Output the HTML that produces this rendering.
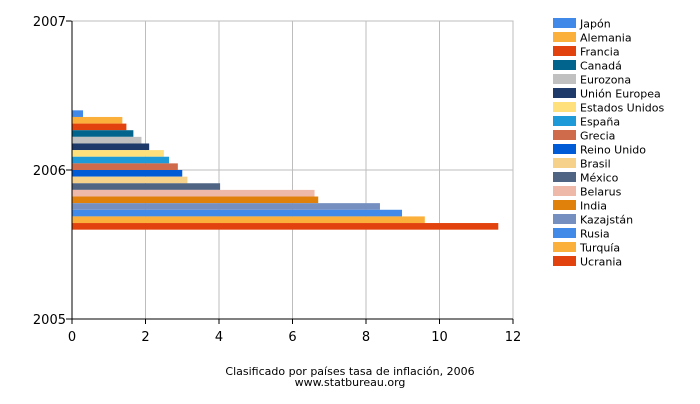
<!DOCTYPE html>
<html><head><meta charset="utf-8"><style>
body{margin:0;background:#fff;font-family:"DejaVu Sans","Liberation Sans",sans-serif;}
</style></head><body>
<svg id="chart" width="700" height="400" xmlns="http://www.w3.org/2000/svg" font-family="DejaVu Sans, Liberation Sans, sans-serif">
<rect width="700" height="400" fill="#fff"/>
<g id="grid"></g><g id="bars"></g><g id="axes"></g><g id="legend"></g>
<text x="350" y="375" font-size="11" text-anchor="middle" fill="#000">Clasificado por países tasa de inflación, 2006</text>
<text x="350" y="386" font-size="11" text-anchor="middle" fill="#000">www.statbureau.org</text>
</svg>
<script>
const countries=["Japón","Alemania","Francia","Canadá","Eurozona","Unión Europea","Estados Unidos","España","Grecia","Reino Unido","Brasil","México","Belarus","India","Kazajstán","Rusia","Turquía","Ucrania"];
const values=[0.3,1.37,1.48,1.67,1.89,2.1,2.5,2.64,2.88,3.0,3.14,4.03,6.6,6.7,8.38,8.98,9.6,11.6];
const colors=["#4189e8","#fbb03b","#e2430e","#00648c","#c0c0c0","#1e3a6b","#ffe07a","#1e9ad8","#cf6b4b","#005bd7","#f5d18a","#4f6482","#eeb9a8","#e0810b","#7590c0","#418ae8","#fbb03b","#e2430e"];
const xTicks=[0,2,4,6,8,10,12];
const yTicks=["2005","2006","2007"];
const L=72,R=513,T=21,B=319;
const x=v=>L+v/12*(R-L);
const yc=i=>B-i*(B-T)/2;
const ns="http://www.w3.org/2000/svg";
function mk(p,t,a){const e=document.createElementNS(ns,t);for(const k in a)e.setAttribute(k,a[k]);p.appendChild(e);return e;}
const grid=document.getElementById('grid'),bars=document.getElementById('bars'),axes=document.getElementById('axes'),leg=document.getElementById('legend');
xTicks.forEach(t=>{
 if(t>0){const g=mk(grid,'line',{x1:x(t),x2:x(t),y1:T,y2:B,stroke:'#bdbdbd','stroke-width':1});
 
 }
 const tx=mk(axes,'text',{x:x(t),y:B+22,'font-size':13,'text-anchor':'middle',fill:'#000'});
 tx.textContent=t;
 
 
});
yTicks.forEach((t,i)=>{
 const y=yc(i);
 const g=mk(grid,'line',{x1:L,x2:R,y1:y,y2:y,stroke:'#bdbdbd','stroke-width':1});
 
 
 mk(axes,'line',{x1:L-6,x2:L,y1:y,y2:y,stroke:'#000'});
 const tx=mk(axes,'text',{x:L-6,y:y+5,'font-size':13,'text-anchor':'end',fill:'#000'});
 tx.textContent=t;
 
 
});
const bh=6.63,top0=yc(1)-bh*values.length/2;
values.forEach((v,i)=>{
 const r=mk(bars,'rect',{x:L,y:top0+i*bh,width:x(v)-L,height:bh,fill:colors[i]});
 
 
});
mk(axes,'rect',{x:L,y:T,width:R-L,height:B-T,fill:'none',stroke:'#bdbdbd'});
mk(axes,'line',{x1:L,x2:L,y1:T,y2:B,stroke:'#000'});
mk(axes,'line',{x1:L,x2:R,y1:B,y2:B,stroke:'#000'});
xTicks.forEach(t=>mk(axes,'line',{x1:x(t),x2:x(t),y1:B,y2:B+5,stroke:'#000'}));
countries.forEach((c,i)=>{
 const y=17+i*14;
 const s=mk(leg,'rect',{x:553,y:y+1,width:23,height:10,fill:colors[i]});
 
 
 const t=mk(leg,'text',{x:580,y:y+10.5,'font-size':11,fill:'#000'});
 t.textContent=c;
 
 
});
</script>
</body></html>
